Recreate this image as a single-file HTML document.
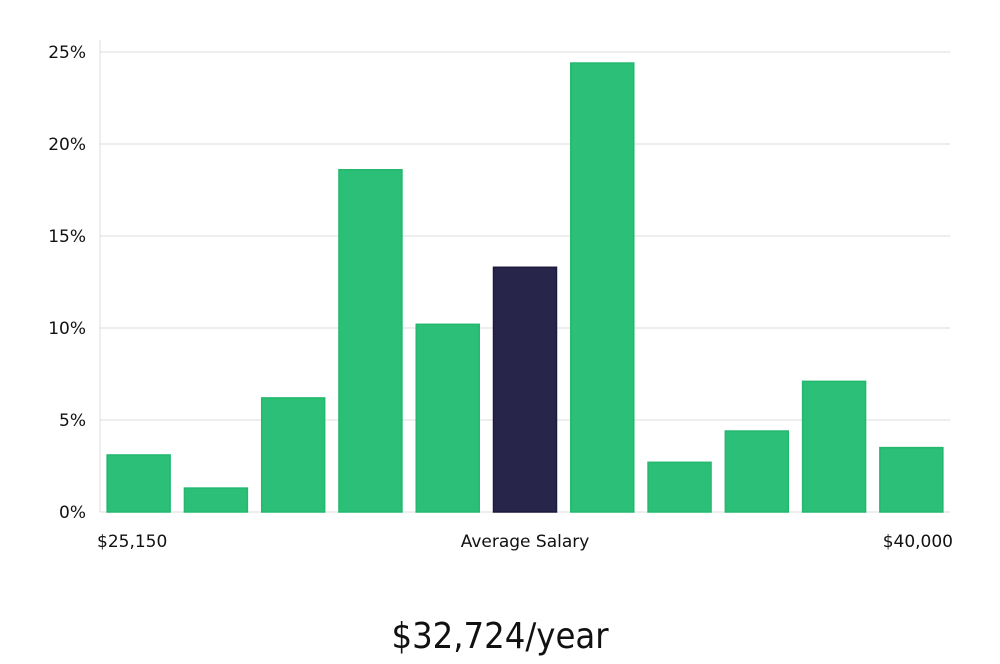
<!DOCTYPE html>
<html><head><meta charset="utf-8"><style>
body{margin:0;background:#fff;width:1000px;height:660px;overflow:hidden;font-family:"DejaVu Sans","Liberation Sans",sans-serif;}
</style></head><body>
<svg id="chart" width="1000" height="660" xmlns="http://www.w3.org/2000/svg"></svg>
<script>
const categories=["b1","b2","b3","b4","b5","b6","b7","b8","b9","b10","b11"];
const values=[3.1,1.3,6.2,18.6,10.2,13.3,24.4,2.7,4.4,7.1,3.5];
const highlightIndex=5;
const yTicks=[0,5,10,15,20,25];
const yTickLabels=["0%","5%","10%","15%","20%","25%"];
const xLabels=["$25,150","Average Salary","$40,000"];
const title="$32,724/year";
const NS="http://www.w3.org/2000/svg";
const svg=document.getElementById('chart');
const L=100,R=950,B=512,T=52;
const y=v=>B-(v/25)*(B-T);
const band=(R-L)/categories.length;
const x=i=>L+i*band;
function mk(t,a,p){const e=document.createElementNS(NS,t);for(const k in a)e.setAttribute(k,a[k]);(p||svg).appendChild(e);return e;}
yTicks.forEach((t,i)=>{
  const g=mk('line',{x1:L,x2:R,y1:y(t),y2:y(t),stroke:'#dcdcdc','stroke-width':1});
  
  
  const tx=mk('text',{x:86,y:y(t)+6,'text-anchor':'end','font-size':17,fill:'#111'});
  tx.textContent=yTickLabels[i];
  
  
});
const ax=mk('line',{x1:L,x2:L,y1:40,y2:B,stroke:'#dcdcdc','stroke-width':1});


values.forEach((v,i)=>{
  const w=band*0.815;
  const hl=i===highlightIndex;
  const r=mk('rect',{x:x(i)+(band-w)/2,y:y(v),width:w,height:B-y(v),fill:hl?'#28254a':'#2bbf77',stroke:hl?'#1c1a3a':'#22b86e','stroke-width':1.5});
  
  
});
const xl=[[97,'start'],[525,'middle'],[953,'end']];
xLabels.forEach((s,i)=>{
  const t=mk('text',{x:xl[i][0],y:547,'text-anchor':xl[i][1],'font-size':17,fill:'#111'});
  t.textContent=s;
  
  
});
const tt=mk('text',{x:500,y:648,'text-anchor':'middle','font-size':36,fill:'#111','font-family':'"Liberation Sans Narrow","DejaVu Sans Condensed","Liberation Sans",sans-serif'});
tt.textContent=title;


</script>
</body></html>
